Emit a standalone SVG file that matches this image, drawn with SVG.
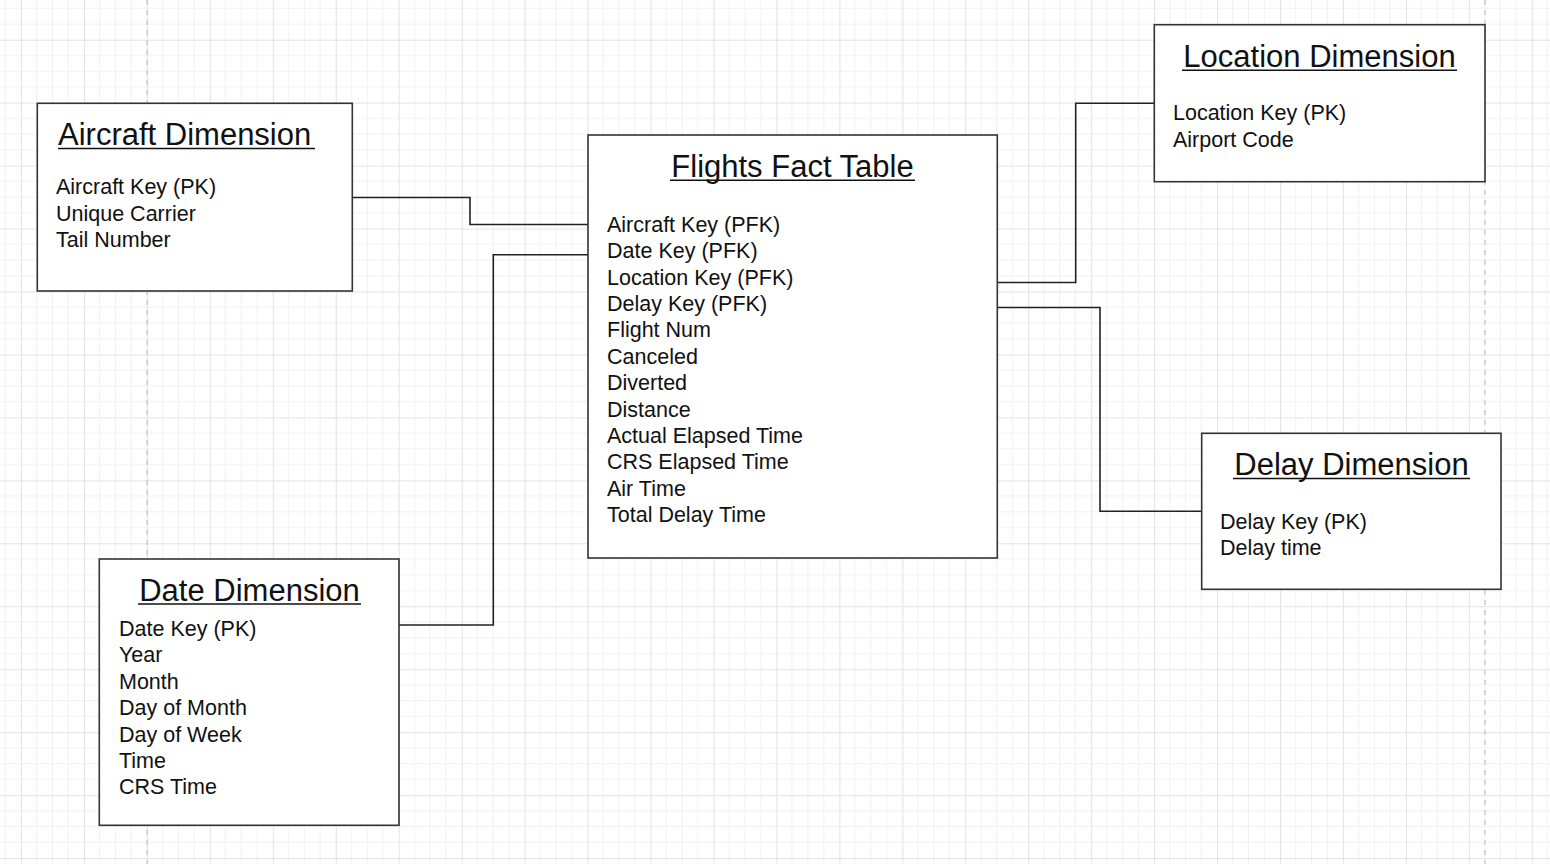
<svg xmlns="http://www.w3.org/2000/svg" width="1550" height="864" viewBox="0 0 1550 864">
  <defs>
    <pattern id="grid" patternUnits="userSpaceOnUse" x="21" y="39.7" width="62.95" height="62.95">
      <path d="M15.74 0V62.95M31.475 0V62.95M47.21 0V62.95M0 15.74H62.95M0 31.475H62.95M0 47.21H62.95" stroke="#f1f1f1" stroke-width="1" fill="none"/>
      <path d="M0.5 0V62.95M0 0.5H62.95" stroke="#e3e3e3" stroke-width="1.2" fill="none"/>
    </pattern>
  </defs>
  <style>
    .box { fill: #ffffff; stroke: #333333; stroke-width: 1.6; }
    .title { font-family: "Liberation Sans", Arial, sans-serif; font-size: 31px; fill: #111111; }
    .body { font-family: "Liberation Sans", Arial, sans-serif; font-size: 21.5px; fill: #111111; }
    .ul { stroke: #111111; stroke-width: 1.6; }
    .conn { fill: none; stroke: #222222; stroke-width: 1.6; }
    .page { stroke: #c4c4c4; stroke-width: 1.2; stroke-dasharray: 5 5; }
  </style>
  <rect x="0" y="0" width="1550" height="864" fill="#ffffff"/>
  <rect x="0" y="0" width="1550" height="864" fill="url(#grid)"/>
  <line class="page" x1="147" y1="0" x2="147" y2="864"/>
  <line class="page" x1="1485" y1="0" x2="1485" y2="864"/>

  <g id="connectors">
    <polyline class="conn" points="352,197.5 470,197.5 470,224.5 588,224.5"/>
    <polyline class="conn" points="399,625 493.3,625 493.3,254.7 588,254.7"/>
    <polyline class="conn" points="997,282.5 1075.7,282.5 1075.7,103.3 1154,103.3"/>
    <polyline class="conn" points="997,307.5 1100,307.5 1100,511.3 1201.7,511.3"/>
  </g>

  <g id="aircraft-dimension">
    <rect class="box" x="37.3" y="103.3" width="315" height="187.7"/>
    <text class="title" x="58" y="145">Aircraft Dimension</text>
    <line class="ul" x1="58" y1="148.5" x2="315" y2="148.5"/>
    <text class="body" x="56" y="194.3">Aircraft Key (PK)</text>
    <text class="body" x="56" y="220.5">Unique Carrier</text>
    <text class="body" x="56" y="246.8">Tail Number</text>
  </g>

  <g id="flights-fact-table">
    <rect class="box" x="588" y="135" width="409.3" height="423"/>
    <text class="title" x="792.5" y="176.7" text-anchor="middle">Flights Fact Table</text>
    <line class="ul" x1="670" y1="180.3" x2="915" y2="180.3"/>
    <text class="body" x="607" y="231.7">Aircraft Key (PFK)</text>
    <text class="body" x="607" y="258.1">Date Key (PFK)</text>
    <text class="body" x="607" y="284.5">Location Key (PFK)</text>
    <text class="body" x="607" y="310.9">Delay Key (PFK)</text>
    <text class="body" x="607" y="337.3">Flight Num</text>
    <text class="body" x="607" y="363.7">Canceled</text>
    <text class="body" x="607" y="390.1">Diverted</text>
    <text class="body" x="607" y="416.5">Distance</text>
    <text class="body" x="607" y="442.9">Actual Elapsed Time</text>
    <text class="body" x="607" y="469.3">CRS Elapsed Time</text>
    <text class="body" x="607" y="495.7">Air Time</text>
    <text class="body" x="607" y="522.1">Total Delay Time</text>
  </g>

  <g id="location-dimension">
    <rect class="box" x="1154.3" y="24.7" width="330.7" height="157"/>
    <text class="title" x="1319.5" y="66.7" text-anchor="middle">Location Dimension</text>
    <line class="ul" x1="1182" y1="70.3" x2="1457" y2="70.3"/>
    <text class="body" x="1173" y="120">Location Key (PK)</text>
    <text class="body" x="1173" y="146.5">Airport Code</text>
  </g>

  <g id="delay-dimension">
    <rect class="box" x="1201.7" y="433.3" width="299.3" height="156"/>
    <text class="title" x="1351.5" y="475" text-anchor="middle">Delay Dimension</text>
    <line class="ul" x1="1233" y1="478.5" x2="1470" y2="478.5"/>
    <text class="body" x="1220" y="529.3">Delay Key (PK)</text>
    <text class="body" x="1220" y="555.3">Delay time</text>
  </g>

  <g id="date-dimension">
    <rect class="box" x="99.3" y="559" width="299.7" height="266.3"/>
    <text class="title" x="249.5" y="600.7" text-anchor="middle">Date Dimension</text>
    <line class="ul" x1="138" y1="604" x2="361" y2="604"/>
    <text class="body" x="119" y="636">Date Key (PK)</text>
    <text class="body" x="119" y="662.4">Year</text>
    <text class="body" x="119" y="688.8">Month</text>
    <text class="body" x="119" y="715.2">Day of Month</text>
    <text class="body" x="119" y="741.6">Day of Week</text>
    <text class="body" x="119" y="768">Time</text>
    <text class="body" x="119" y="794.4">CRS Time</text>
  </g>
</svg>
